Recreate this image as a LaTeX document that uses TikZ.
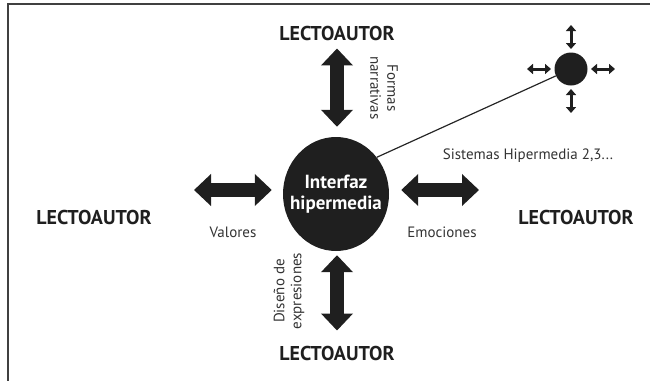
\documentclass[tikz,border=0pt]{standalone}
\usepackage{fontspec}
\setmainfont{PT Sans}
\usetikzlibrary{arrows.meta,positioning,shapes.geometric}
\tikzset{
    %Define standard arrow tip
    >=Triangle,
    %Define style for the reader-author labels
    autor/.style={
           font=\fontsize{20}{22}\selectfont\bfseries,
           text=black!88,
           inner sep=0pt},
    etiqueta/.style={
           font=\fontsize{15}{17}\selectfont,
           text=black!80,
           inner sep=0pt,
           align=center},
    % Define style for the interface
    nucleo/.style={
           ellipse,
           fill=black!88,
           minimum width=106pt,
           minimum height=114pt,
           inner sep=0pt},
    nucleotexto/.style={
           text=white,
           inner sep=0pt,
           align=center,
           font=\fontsize{19}{21}\selectfont\bfseries},
    satelite/.style={
           circle,
           fill=black!88,
           minimum size=33pt,
           inner sep=0pt},
    % Define arrow style
    flecha/.style={
           draw=black!88,
           line width=14pt,
           {Triangle[width=31pt,length=17pt]}-{Triangle[width=31pt,length=17pt]}},
    flechita/.style={
           draw=black!88,
           line width=3pt,
           {Triangle[width=10pt,length=6pt]}-{Triangle[width=10pt,length=6pt]}}
}
\begin{document}
\begin{tikzpicture}[x=1pt,y=-1pt]
\useasboundingbox (0,0) rectangle (650,381);
% frame
\draw[black!75, line width=1.5pt] (650,4) -- (8,4) -- (8,381);
 %nodes
\node[nucleo](main) at (336,194) {};
\node[nucleotexto](interfaz) at (main.center) {Interfaz\\hipermedia};
\node[satelite](small) at (571,69) {};
\node[autor](arriba) at (337,33) {LECTOAUTOR};
\node[autor](abajo) at (337,353) {LECTOAUTOR};
\node[autor](izquierda) at (94,217) {LECTOAUTOR};
\node[autor](derecha) at (576,217) {LECTOAUTOR};
\coordinate (izq) at (194,190);
\coordinate (der) at (479,190);
 %labels
\node[etiqueta, rotate=-90](formas) at (384,88) {Formas\\narrativas};
\node[etiqueta, rotate=90](diseno) at (289,291) {Diseño de\\expresiones};
\node[etiqueta](valores) at (233,232) {Valores};
\node[etiqueta](emociones) at (442,232) {Emociones};
\node[etiqueta](sistemas) at (528,156) {Sistemas Hipermedia 2,3...};
 %arrows
\draw[flecha, shorten <=8pt, shorten >=10pt] (arriba.south) -- (arriba.south |- main.north);
\draw[flecha, shorten <=15pt, shorten >=4pt] (abajo.north) -- (abajo.north |- main.south);
\draw[flecha, shorten >=11pt] (izq) -- (izq -| main.west);
\draw[flecha, shorten >=12pt] (der) -- (der -| main.east);
\draw[black!85, line width=1.2pt] (main.42) -- (small);
\foreach \ang/\nombre in {0/e,90/s,180/w,270/n}{
  \path (small) ++(\ang:20) coordinate (a\nombre) ++(\ang:24) coordinate (b\nombre);
  \draw[flechita] (a\nombre) -- (b\nombre);
}
\end{tikzpicture}
\end{document}
